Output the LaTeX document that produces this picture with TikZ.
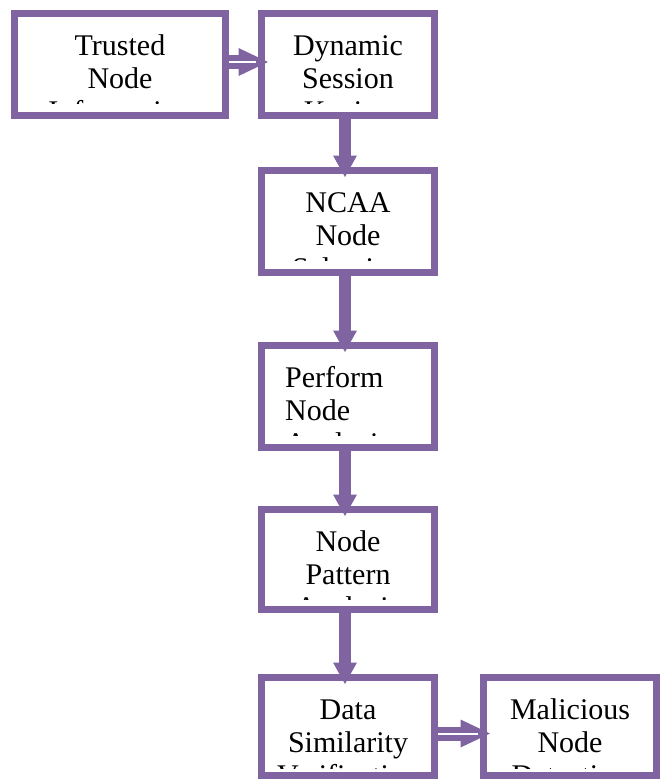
\documentclass[tikz,border=0pt]{standalone}
\usepackage{fontspec}
\setmainfont{Liberation Serif}
\definecolor{boxpurple}{RGB}{128,100,162}
\tikzset{
  stepbox/.style={draw=boxpurple, line width=7pt, minimum width=173pt,
    minimum height=102pt, inner sep=0pt, outer sep=0pt},
  words/.style={font=\fontsize{30}{33}\selectfont, inner sep=0pt},
  vshaft/.style={draw=boxpurple, line width=12pt},
  hshaft/.style={draw=boxpurple, line width=14pt},
  hollow/.style={draw=white, line width=2pt},
}
% three lines of text inside a box, cut off at the lower inner edge
% #1 box, #2 anchor side, #3 x offset, #4-#6 lines, #7 bottom padding
\newcommand\stepwords[7]{%
  \begin{scope}
    \clip ([shift={(3.5,3.5)}]#1.north west) rectangle ([shift={(-3.5,-#7)}]#1.south east);
    \node[words, anchor=base #2] (#1-a) at ([shift={(#3,41.5)}]#1.north) {#4};
    \node[words, anchor=base #2] (#1-b) at ([shift={(#3,74.5)}]#1.north) {#5};
    \node[words, anchor=base #2] (#1-c) at ([shift={(#3,107.5)}]#1.north) {#6};
  \end{scope}}
% thick downward arrow, head reaching into the next box
\newcommand\stepdown[2]{%
  \draw[vshaft] ([shift={(-3,0)}]#1.south) -- ([shift={(-3,-14)}]#2.north);
  \fill[boxpurple] ([shift={(-15,-15)}]#2.north) -- ([shift={(9,-15)}]#2.north)
    -- ([shift={(-3,6.5)}]#2.north) -- cycle;}
% hollow (double) arrow to the right, #3 vertical offset
\newcommand\stepright[3]{%
  \draw[hshaft] ([shift={(0,#3)}]#1.east) -- ([shift={(-22,#3)}]#2.west);
  \fill[boxpurple] ([shift={(-23,#3-14)}]#2.west) -- ([shift={(-23,#3+14)}]#2.west)
    -- ([shift={(6.5,#3)}]#2.west) -- cycle;
  \draw[hollow] ([shift={(3.5,#3)}]#1.east) -- ([shift={(-6,#3)}]#2.west);}

\begin{document}
\begin{tikzpicture}[x=1pt, y=-1pt]
  \useasboundingbox (0,0) rectangle (664,780);

  % process boxes
  \node[stepbox, minimum width=211pt] (trusted) at (120,64.5) {};
  \node[stepbox] (session)   at (348,64.5) {};
  \node[stepbox] (ncaa)      at (348,221.5) {};
  \node[stepbox] (perform)   at (348,396.5) {};
  \node[stepbox, minimum height=100pt] (pattern) at (348,559.5) {};
  \node[stepbox, minimum height=98pt] (similar)   at (348,726.5) {};
  \node[stepbox, minimum height=98pt] (malicious) at (570,726.5) {};

  % box texts
  \stepwords{trusted}{}{0}{Trusted}{Node}{Information}{12}
  \stepwords{session}{}{0}{Dynamic}{Session}{Keying}{12}
  \stepwords{ncaa}{}{0}{NCAA}{Node}{Selection}{12}
  \stepwords{perform}{west}{-63}{Perform}{Node}{Analysis}{12}
  \stepwords{pattern}{}{0}{Node}{Pattern}{Analysis}{10}
  \stepwords{similar}{}{0}{Data}{Similarity}{Verification}{7.5}
  \stepwords{malicious}{}{0}{Malicious}{Node}{Detection}{7.5}

  % connectors
  \stepright{trusted}{session}{-2.5}
  \stepdown{session}{ncaa}
  \stepdown{ncaa}{perform}
  \stepdown{perform}{pattern}
  \stepdown{pattern}{similar}
  \stepright{similar}{malicious}{7}
\end{tikzpicture}
\end{document}
